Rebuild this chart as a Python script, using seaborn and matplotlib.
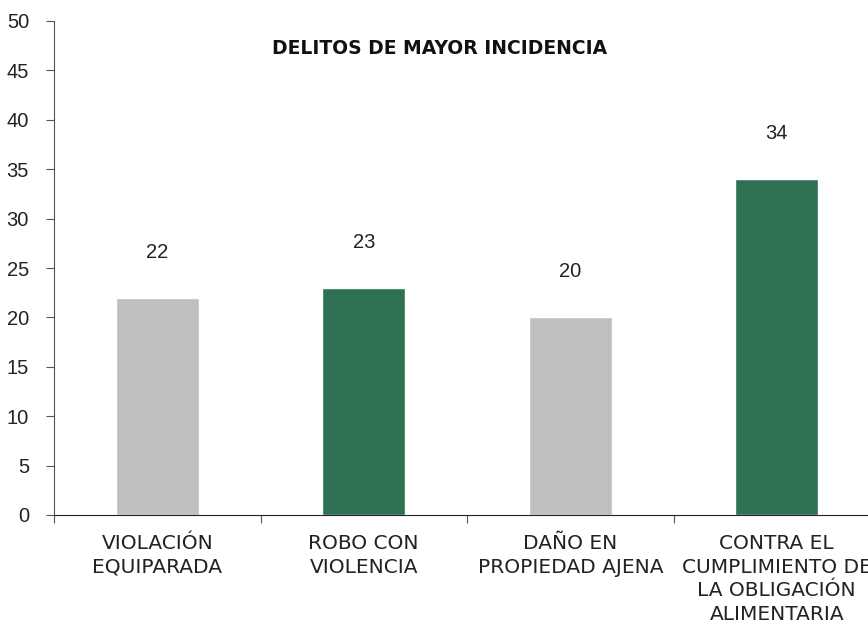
import numpy as np
import pandas as pd
import matplotlib
matplotlib.use("Agg")
import matplotlib.pyplot as plt
import seaborn as sns

categorias = ["VIOLACIÓN\nEQUIPARADA", "ROBO CON\nVIOLENCIA", "DAÑO EN\nPROPIEDAD AJENA",
              "CONTRA EL\nCUMPLIMIENTO DE\nLA OBLIGACIÓN\nALIMENTARIA"]
valores = [22, 23, 20, 34]
colores = ["#BFBFBF", "#2E7152", "#BFBFBF", "#2E7152"]
titulo = "DELITOS DE MAYOR INCIDENCIA"

sns.set_style("white")
plt.rcParams["font.family"] = ["Liberation Sans", "DejaVu Sans"]

df = pd.DataFrame({"cat": categorias, "val": valores})

fig = plt.figure(figsize=(8.68, 6.28), dpi=100)
ax = fig.add_axes([54 / 868, 113 / 628, 826 / 868, 494 / 628])

sns.barplot(data=df, x="cat", y="val", hue="cat", palette=colores, width=0.4,
            legend=False, ax=ax, saturation=1)

for i, v in enumerate(valores):
    ax.text(i, v + 4.6, str(v), ha="center", va="center", fontsize=14.5, color="#222222")

ax.set_xlim(-0.5, 3.5)
ax.set_ylim(0, 50)
ax.set_yticks(np.arange(0, 51, 5))
ax.tick_params(axis="y", labelsize=14.5, length=6, direction="out", color="#555555", left=True,
               labelcolor="#222222", pad=12)

# ticks on the category edges, labels centred under the bars
ax.set_xticks([-0.5, 0.5, 1.5, 2.5, 3.5])
ax.set_xticklabels([])
ax.set_xticks(range(len(categorias)), minor=True)
ax.set_xticklabels(categorias, minor=True, fontsize=14.5, fontfamily="DejaVu Sans",
                   linespacing=1.3, color="#222222")
ax.tick_params(axis="x", which="major", length=6, direction="out", color="#555555", bottom=True)
ax.tick_params(axis="x", which="minor", length=0, pad=14)

ax.set_xlabel("")
ax.set_ylabel("")
for s in ["top", "right"]:
    ax.spines[s].set_visible(False)
ax.spines["left"].set_color("#555555")
ax.spines["bottom"].set_color("#222222")

fig.text(440 / 868, 1 - 48 / 628, titulo, ha="center", va="center", fontsize=13.5,
         fontweight="bold", fontfamily="DejaVu Sans", color="#111111")

fig.savefig("out.png", dpi=100)
